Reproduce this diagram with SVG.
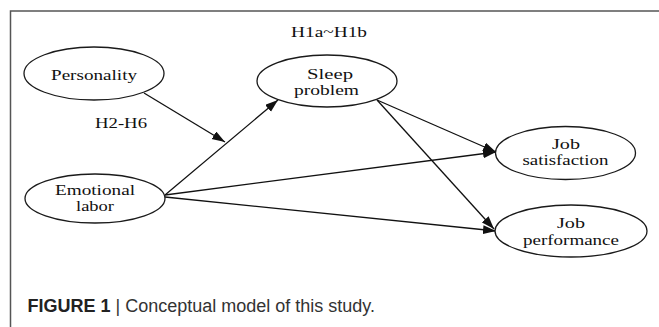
<svg xmlns="http://www.w3.org/2000/svg" width="659" height="327" viewBox="0 0 659 327">
<style>
.node ellipse{fill:#fff;stroke:#1a1a1a;stroke-width:1.3}
.t{font-family:'Liberation Serif','DejaVu Serif','Times New Roman',serif;font-size:15px;fill:#111;text-anchor:middle}
.edges line{stroke:#111;stroke-width:1.3;marker-end:url(#ah)}
.cap{font-family:'Liberation Sans',Arial,sans-serif;font-size:18px;fill:#333}
</style>
<defs>
<marker id="ah" markerUnits="userSpaceOnUse" markerWidth="14" markerHeight="10" refX="13" refY="4.5" orient="auto">
<path d="M0,0 L13,4.5 L0,9 Z" fill="#111"/>
</marker>
</defs>
<rect width="659" height="327" fill="#fff"/>
<path d="M10.5,327 V11 H659" fill="none" stroke="#555" stroke-width="1.5"/>
<g class="edges">
<line x1="144" y1="93" x2="225" y2="142"/>
<line x1="165" y1="195" x2="278" y2="100"/>
<line x1="165" y1="195" x2="496" y2="152"/>
<line x1="165" y1="197" x2="496" y2="231"/>
<line x1="377" y1="100" x2="496" y2="152"/>
<line x1="377" y1="100" x2="494" y2="229"/>
</g>
<g id="personality" class="node">
<ellipse cx="94" cy="73.5" rx="70" ry="26.5"/>
<text class="t" font-family="Liberation Serif, serif" x="94" y="80" textLength="86" lengthAdjust="spacingAndGlyphs">Personality</text>
</g>
<g id="sleep" class="node">
<ellipse cx="327" cy="81" rx="70" ry="26"/>
<text class="t" font-family="Liberation Serif, serif" x="330" y="79" textLength="46" lengthAdjust="spacingAndGlyphs">Sleep</text>
<text class="t" font-family="Liberation Serif, serif" x="326.5" y="94.5" textLength="65" lengthAdjust="spacingAndGlyphs">problem</text>
</g>
<g id="emotional" class="node">
<ellipse cx="95" cy="198.5" rx="70" ry="24.5"/>
<text class="t" font-family="Liberation Serif, serif" x="95" y="195" textLength="80" lengthAdjust="spacingAndGlyphs">Emotional</text>
<text class="t" font-family="Liberation Serif, serif" x="95" y="210.5" textLength="38" lengthAdjust="spacingAndGlyphs">labor</text>
</g>
<g id="satisfaction" class="node">
<ellipse cx="565.5" cy="153" rx="70" ry="26.5"/>
<text class="t" font-family="Liberation Serif, serif" x="566" y="148.5" textLength="28" lengthAdjust="spacingAndGlyphs">Job</text>
<text class="t" font-family="Liberation Serif, serif" x="565.5" y="165" textLength="86" lengthAdjust="spacingAndGlyphs">satisfaction</text>
</g>
<g id="performance" class="node">
<ellipse cx="571" cy="231" rx="76" ry="26"/>
<text class="t" font-family="Liberation Serif, serif" x="571" y="228" textLength="28" lengthAdjust="spacingAndGlyphs">Job</text>
<text class="t" font-family="Liberation Serif, serif" x="571" y="245" textLength="96" lengthAdjust="spacingAndGlyphs">performance</text>
</g>
<text class="t" font-family="Liberation Serif, serif" x="329" y="37" textLength="76" lengthAdjust="spacingAndGlyphs">H1a~H1b</text>
<text class="t" font-family="Liberation Serif, serif" x="121" y="128" textLength="52" lengthAdjust="spacingAndGlyphs">H2-H6</text>
<text class="cap" x="27.5" y="312"><tspan font-weight="bold" fill="#222">FIGURE 1</tspan> | Conceptual model of this study.</text>
</svg>
